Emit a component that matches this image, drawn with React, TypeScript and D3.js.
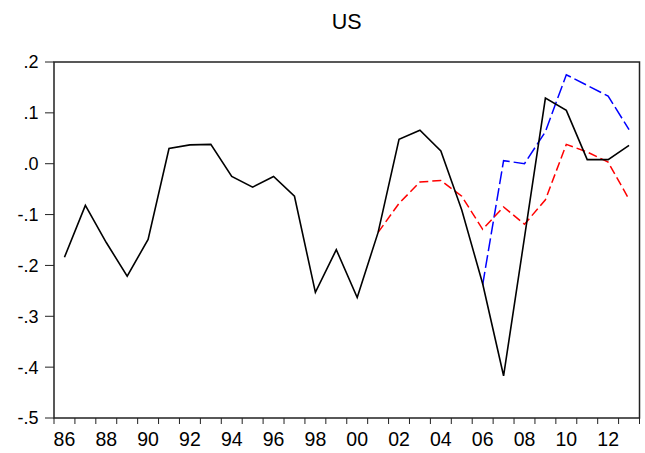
import React from "react";
import * as d3 from "d3";

const years = d3.range(1986, 2014);
const actual = [-0.184, -0.082, -0.155, -0.221, -0.149, 0.030, 0.037, 0.038, -0.025, -0.046, -0.025, -0.064, -0.253, -0.169, -0.263, -0.135, 0.048, 0.066, 0.025, -0.091, -0.236, -0.417, -0.145, 0.129, 0.105, 0.008, 0.008, 0.036];
const redYears = d3.range(2001, 2014);
const redValues = [-0.135, -0.078, -0.036, -0.033, -0.064, -0.129, -0.085, -0.119, -0.071, 0.038, 0.023, 0.003, -0.070];
const blueYears = d3.range(2006, 2014);
const blueValues = [-0.238, 0.006, 0.0, 0.063, 0.175, 0.154, 0.133, 0.067];
const yTicks = [0.2, 0.1, 0.0, -0.1, -0.2, -0.3, -0.4, -0.5];
const yTickLabels = [".2", ".1", ".0", "-.1", "-.2", "-.3", "-.4", "-.5"];
const xLabelYears = d3.range(1986, 2014, 2);

const W = 645, H = 453;
const left = 54, right = 639.5, top = 62, bottom = 418;
const font = "'Liberation Sans', Arial, sans-serif";

export default function App() {
  const xTime = d3.scaleLinear().domain([1986, 2014]).range([left, right]);
  const xc = (yr: number) => xTime(yr + 0.5);
  const y = d3.scaleLinear().domain([-0.5, 0.2]).range([bottom, top]);
  const line = d3.line<[number, number]>().x(d => xc(d[0])).y(d => y(d[1]));
  const actualPts = years.map((yr, i) => [yr, actual[i]] as [number, number]);
  const redPts = redYears.map((yr, i) => [yr, redValues[i]] as [number, number]);
  const bluePts = blueYears.map((yr, i) => [yr, blueValues[i]] as [number, number]);
  const tickYears = d3.range(1986, 2015);
  return (
    <svg width={W} height={H} style={{ position: "absolute", left: 0, top: 0, background: "#fff" }}>
      <rect x={0} y={0} width={W} height={H} fill="#fff" />
      <text x={(left + right) / 2} y={28.5} textAnchor="middle" fontFamily={font} fontSize={21.5} fill="#000">US</text>
      <rect x={left} y={top} width={right - left} height={bottom - top} fill="none" stroke="#222" strokeWidth={1.5} />
      {yTicks.map((v, i) => (
        <g key={"y" + i}>
          <line x1={left - 9} x2={left} y1={y(v)} y2={y(v)} stroke="#222" strokeWidth={1} />
          <text x={38.5} y={y(v)} dy="0.36em" textAnchor="end" fontFamily={font} fontSize={18} fill="#000">{yTickLabels[i]}</text>
        </g>
      ))}
      {tickYears.map(yr => (
        <line key={"xt" + yr} x1={xTime(yr)} x2={xTime(yr)} y1={bottom} y2={bottom + 6} stroke="#222" strokeWidth={1} />
      ))}
      {xLabelYears.map(yr => (
        <text key={"xl" + yr} x={xc(yr)} y={445.5} textAnchor="middle" fontFamily={font} fontSize={19.5} fill="#000">{String(yr % 100).padStart(2, "0")}</text>
      ))}
      <path d={line(bluePts) || ""} fill="none" stroke="#0000ff" strokeWidth={1.5} strokeDasharray="13,4" />
      <path d={line(redPts) || ""} fill="none" stroke="#ff0000" strokeWidth={1.5} strokeDasharray="9,4" />
      <path d={line(actualPts) || ""} fill="none" stroke="#000" strokeWidth={1.6} strokeLinejoin="miter" />
    </svg>
  );
}
